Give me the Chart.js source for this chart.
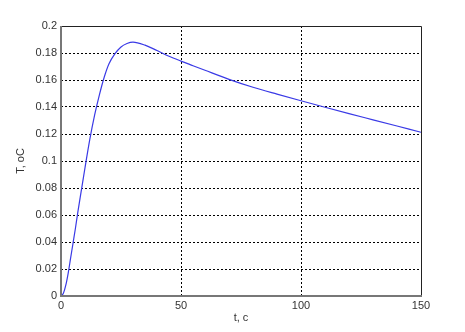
<!DOCTYPE html>
<html>
<head>
<meta charset="utf-8">
<script src="https://cdn.jsdelivr.net/npm/chart.js@4/dist/chart.umd.min.js"></script>
<style>
  html, body { margin: 0; padding: 0; background: #fff; }
  #wrap { width: 465px; height: 332px; }
</style>
</head>
<body>
<div id="wrap"><canvas id="plot" width="465" height="332"></canvas></div>
<script>
// time, c
const tValues = [0, 1, 2, 3, 4, 5, 6, 7, 8, 9, 10, 12, 14, 16, 18, 20, 22.5, 25, 27.5, 30, 35, 40, 45, 50, 55, 60, 70, 80, 90, 100, 110, 120, 130, 140, 150];
// temperature, oC
const TValues = [0, 0.002, 0.008, 0.017, 0.028, 0.039, 0.05, 0.062, 0.073, 0.084, 0.095, 0.116, 0.134, 0.149, 0.162, 0.172, 0.1795, 0.1845, 0.187, 0.188, 0.1858, 0.1818, 0.1776, 0.174, 0.1706, 0.1672, 0.1605, 0.1546, 0.1495, 0.1446, 0.1398, 0.1351, 0.1305, 0.1259, 0.1213];
const xTicks = [0, 50, 100, 150];
const yTicks = [0, 0.02, 0.04, 0.06, 0.08, 0.1, 0.12, 0.14, 0.16, 0.18, 0.2];

const points = tValues.map((t, i) => ({ x: t, y: TValues[i] }));
const tickFont = { family: 'Liberation Sans', size: 11 };

// frame like matlab: thick grey left/bottom, thin dark top/right
const framePlugin = {
    id: 'frame',
    afterDatasetsDraw(chart) {
        const a = chart.chartArea, c = chart.ctx;
        c.save();
        c.strokeStyle = '#222';
        c.lineWidth = 1;
        c.beginPath();
        c.moveTo(a.left, a.top + 0.5);
        c.lineTo(a.right + 0.5, a.top + 0.5);
        c.lineTo(a.right + 0.5, a.bottom);
        c.stroke();
        c.strokeStyle = '#777';
        c.lineWidth = 2;
        c.beginPath();
        c.moveTo(a.left, a.top);
        c.lineTo(a.left, a.bottom);
        c.lineTo(a.right + 1, a.bottom);
        c.stroke();
        c.restore();
    }
};

const edgeColor = (lo, hi) => ctx => {
    const v = ctx.tick ? ctx.tick.value : null;
    return (v === lo || v === hi) ? 'rgba(0,0,0,0)' : '#000';
};

new Chart(document.getElementById('plot').getContext('2d'), {
    type: 'scatter',
    data: {
        datasets: [{
            data: points,
            showLine: true,
            borderColor: '#3a3ae6',
            borderWidth: 1.2,
            pointRadius: 0,
            cubicInterpolationMode: 'monotone',
            fill: false
        }]
    },
    options: {
        responsive: false,
        animation: false,
        events: [],
        layout: { padding: { left: 0, top: 26, right: 44, bottom: 0 } },
        plugins: { legend: { display: false }, tooltip: { enabled: false } },
        scales: {
            x: {
                type: 'linear', min: 0, max: 150,
                afterBuildTicks: s => { s.ticks = xTicks.map(v => ({ value: v })); },
                afterFit: s => { s.height = 36; },
                grid: { color: edgeColor(0, 150), lineWidth: 1, drawTicks: false },
                border: { display: false, dash: [2, 2] },
                ticks: { font: tickFont, color: '#333', padding: 3, maxRotation: 0 },
                title: { display: true, text: 't, c', font: tickFont, color: '#333', padding: { top: 0, bottom: 7 } }
            },
            y: {
                type: 'linear', min: 0, max: 0.2,
                afterBuildTicks: s => { s.ticks = yTicks.map(v => ({ value: v })); },
                afterFit: s => { s.width = 61; },
                grid: { color: edgeColor(0, 0.2), lineWidth: 1, drawTicks: false },
                border: { display: false, dash: [2, 2] },
                ticks: { font: tickFont, color: '#333', padding: 4, callback: v => String(+v.toFixed(2)) },
                title: { display: true, text: 'T, oC', font: tickFont, color: '#333', padding: { top: 14, bottom: 0 } }
            }
        }
    },
    plugins: [framePlugin]
});
</script>
</body>
</html>
